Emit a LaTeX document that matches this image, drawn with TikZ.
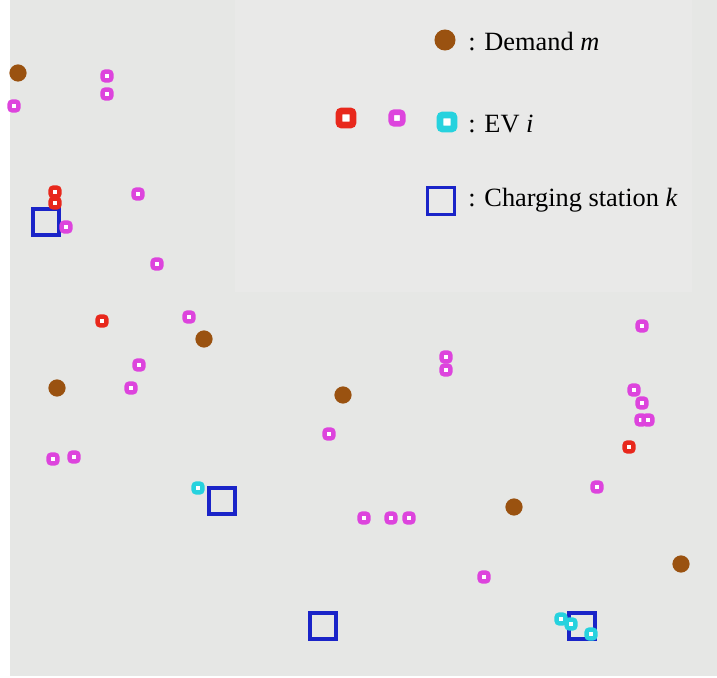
\documentclass[tikz,border=0pt]{standalone}
\usepackage{fontspec}
\setmainfont{Liberation Serif}
\usepackage{tikz}
\usetikzlibrary{positioning}
\definecolor{mapBg}{HTML}{E6E7E5}
\definecolor{mapLegend}{HTML}{E9E9E8}
\definecolor{demBrown}{HTML}{9A5210}
\definecolor{evRed}{HTML}{E8281C}
\definecolor{evPink}{HTML}{DD44DD}
\definecolor{evCyan}{HTML}{26D2DE}
\definecolor{csBlue}{HTML}{1A24C8}
\tikzset{
  demand/.style   = {circle, fill=demBrown, minimum size=9.8pt, inner sep=0pt},
  evbase/.style   = {rectangle, rounded corners=1.5pt, line width=2.5pt,
                     fill=white, minimum size=5pt, inner sep=0pt},
  evred/.style    = {evbase, draw=evRed},
  evpink/.style   = {evbase, draw=evPink},
  evcyan/.style   = {evbase, draw=evCyan},
  station/.style  = {rectangle, draw=csBlue, line width=2pt,
                     minimum size=15pt, inner sep=0pt},
  legtext/.style  = {anchor=west, inner sep=0pt,
                     font=\fontsize{15}{18}\selectfont},
}

\begin{document}
\begin{tikzpicture}[x=0.02cm, y=-0.02cm]
  \useasboundingbox (0,0) rectangle (717,678);
  \fill[mapBg] (10,0) rectangle (717,676);
  \fill[mapLegend] (235,0) rectangle (692,292);

  % legend
  \node[demand, minimum size=12pt] (legDem) at (445,40) {};
  \node[legtext] (legDemTxt) at (468,42) {: Demand \textit{m}};
  \node[evred, minimum size=8pt, line width=3.8pt] (legRed) at (346,118) {};
  \node[evpink, minimum size=6.5pt, line width=3.2pt] (legPink) at (397,118) {};
  \node[evcyan, minimum size=8pt, line width=3.8pt] (legCyan) at (447,122) {};
  \node[legtext] (legEvTxt) at (468,124) {: EV \textit{i}};
  \node[station, minimum size=15.5pt] (legCs) at (441,201) {};
  \node[legtext] (legCsTxt) at (468,200) {: Charging station \textit{k}};

  % demand points
  \node[demand] (d1) at (18,73) {};
  \node[demand] (d2) at (204,339) {};
  \node[demand] (d3) at (57,388) {};
  \node[demand] (d4) at (343,395) {};
  \node[demand] (d5) at (514,507) {};
  \node[demand] (d6) at (681,564) {};

  % charging stations
  \node[station] (k1) at (46,222) {};
  \node[station] (k2) at (222,501) {};
  \node[station] (k3) at (323,626) {};
  \node[station] (k4) at (582,626) {};

  % EVs
  \foreach \px/\py [count=\n] in {107/76, 107/94, 14/106, 138/194, 66/227,
      157/264, 189/317, 139/365, 131/388, 53/459, 74/457, 329/434, 446/357,
      446/370, 364/518, 391/518, 409/518, 484/577, 597/487, 642/326, 634/390,
      642/403, 641/420, 648/420}
    \node[evpink] (p\n) at (\px,\py) {};
  \foreach \px/\py [count=\n] in {55/192, 55/203, 102/321, 629/447}
    \node[evred] (r\n) at (\px,\py) {};
  \foreach \px/\py [count=\n] in {198/488, 561/619, 571/624, 591/634}
    \node[evcyan] (c\n) at (\px,\py) {};
\end{tikzpicture}
\end{document}
